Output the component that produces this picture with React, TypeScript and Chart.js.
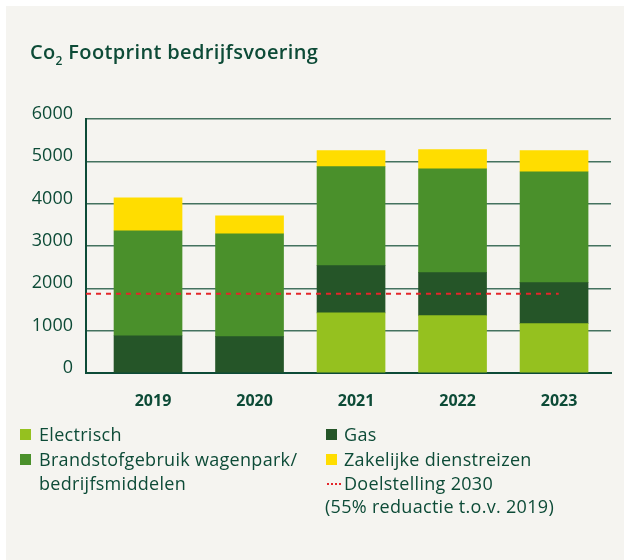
import React, { useEffect, useRef } from "react";
import { Chart, registerables } from "chart.js";

Chart.register(...registerables);

// ---- data ----
const years = ["2019", "2020", "2021", "2022", "2023"];
const electrisch = [null, null, 1420, 1355, 1165];
const gas = [880, 860, 1115, 1015, 970];
const brandstof = [2480, 2430, 2340, 2455, 2620];
const zakelijk = [780, 420, 380, 450, 500];
const doelstelling2030 = 1870;
const targetSpan = [-0.611, 4.046];
const yMin = 0;
const yMax = 6000;
const yStep = 1000;

const legendLeft = ["Electrisch", "Brandstofgebruik wagenpark/", "bedrijfsmiddelen"];
const legendRight = ["Gas", "Zakelijke dienstreizen", "Doelstelling 2030", "(55% reduactie t.o.v. 2019)"];

// ---- style ----
const DARK = "#0d4b37";
const GRID = "#44725f";
const BG = "#f5f4f0";
const C_ELEC = "#95c11f";
const C_BRAND = "#4a902b";
const C_GAS = "#255528";
const C_ZAK = "#ffdd00";
const C_TARGET = "#e4252a";
const FONT = "'Open Sans', Lato, sans-serif";

const pts = (arr: (number | null)[]) => arr.map((v, i) => ({ x: i, y: v }));

export default function App() {
  const ref = useRef<HTMLCanvasElement | null>(null);

  useEffect(() => {
    if (!ref.current) return;
    Chart.defaults.font.family = FONT;
    const chart = new Chart(ref.current, {
      type: "bar",
      data: {
        datasets: [
          { label: "Electrisch", data: pts(electrisch) as any, backgroundColor: C_ELEC, order: 1, barThickness: 68 },
          { label: "Gas", data: pts(gas) as any, backgroundColor: C_GAS, order: 1, barThickness: 68 },
          { label: "Brandstof", data: pts(brandstof) as any, backgroundColor: C_BRAND, order: 1, barThickness: 68 },
          { label: "Zakelijk", data: pts(zakelijk) as any, backgroundColor: C_ZAK, order: 1, barThickness: 68 },
          {
            type: "line" as any,
            label: "Doelstelling 2030",
            data: targetSpan.map((x) => ({ x, y: doelstelling2030 })) as any,
            borderColor: C_TARGET,
            borderWidth: 2,
            borderDash: [5, 5],
            pointRadius: 0,
            fill: false,
            order: 0,
          } as any,
        ],
      },
      options: {
        animation: false,
        responsive: false,
        maintainAspectRatio: false,
        layout: { padding: { left: 0, right: 13, top: 119, bottom: 7 } },
        plugins: { legend: { display: false }, tooltip: { enabled: false }, title: { display: false } },
        scales: {
          x: {
            type: "linear",
            stacked: true,
            offset: false,
            min: -0.611,
            max: 4.561,
            z: 1,
            afterBuildTicks: (s: any) => { s.ticks = years.map((_, i) => ({ value: i })); },
            afterFit: (s: any) => { s.height = 50; },
            grid: { display: false, drawTicks: false },
            border: { display: true, color: DARK, width: 2 },
            ticks: {
              autoSkip: false,
              maxRotation: 0,
              padding: 19,
              labelOffset: 5,
              color: DARK,
              font: { family: FONT, size: 16, weight: "bold" },
              callback: (v: any) => (years[Math.round(v)] !== undefined ? years[Math.round(v)] : ""),
            },
          },
          y: {
            stacked: true,
            min: yMin,
            max: yMax,
            afterFit: (s: any) => { s.width = 86; },
            grid: { color: GRID, lineWidth: 1.5, drawTicks: false },
            border: { display: true, color: DARK, width: 2 },
            ticks: {
              stepSize: yStep,
              padding: 13,
              labelOffset: -5,
              color: DARK,
              font: { family: FONT, size: 18, weight: "500" },
              callback: (v: any) => String(v),
            },
          },
        },
      } as any,
    });
    return () => chart.destroy();
  }, []);

  const text: React.CSSProperties = {
    position: "absolute",
    fontFamily: FONT,
    fontSize: 18,
    letterSpacing: 0.3,
    lineHeight: "24px",
    color: DARK,
    whiteSpace: "nowrap",
  };
  const sq = (left: number, top: number, color: string): React.CSSProperties => ({
    position: "absolute",
    left,
    top,
    width: 11,
    height: 11,
    background: color,
  });

  return (
    <div style={{ position: "fixed", left: 0, top: 0, width: 624, height: 560, background: "#ffffff", overflow: "hidden" }}>
      <div style={{ position: "absolute", left: 6, top: 6, right: 0, bottom: 0, background: BG }} />
      <canvas ref={ref} width={624} height={430} style={{ position: "absolute", left: 0, top: 0, display: "block" }} />
      <div
        style={{
          position: "absolute",
          left: 30,
          top: 39.5,
          fontFamily: FONT,
          fontSize: 20,
          fontWeight: 600,
          letterSpacing: 0.35,
          lineHeight: "24px",
          color: DARK,
          whiteSpace: "nowrap",
        }}
      >
        Co<span style={{ fontSize: 12, position: "relative", top: 6 }}>2</span> Footprint bedrijfsvoering
      </div>

      {/* legend left column */}
      <div style={sq(20, 429, C_ELEC)} />
      <div style={{ ...text, left: 39, top: 422 }}>{legendLeft[0]}</div>
      <div style={sq(20, 454, C_BRAND)} />
      <div style={{ ...text, left: 39, top: 446.5 }}>
        {legendLeft[1]}
        <br />
        {legendLeft[2]}
      </div>

      {/* legend right column */}
      <div style={sq(326, 429, C_GAS)} />
      <div style={{ ...text, left: 344, top: 422 }}>{legendRight[0]}</div>
      <div style={sq(326, 454, C_ZAK)} />
      <div style={{ ...text, left: 344, top: 446.5 }}>{legendRight[1]}</div>
      <div style={{ position: "absolute", left: 327, top: 483, width: 14, height: 0, borderTop: `2px dotted ${C_TARGET}` }} />
      <div style={{ ...text, left: 344, top: 470.5 }}>{legendRight[2]}</div>
      <div style={{ ...text, left: 325, top: 494 }}>{legendRight[3]}</div>
    </div>
  );
}
